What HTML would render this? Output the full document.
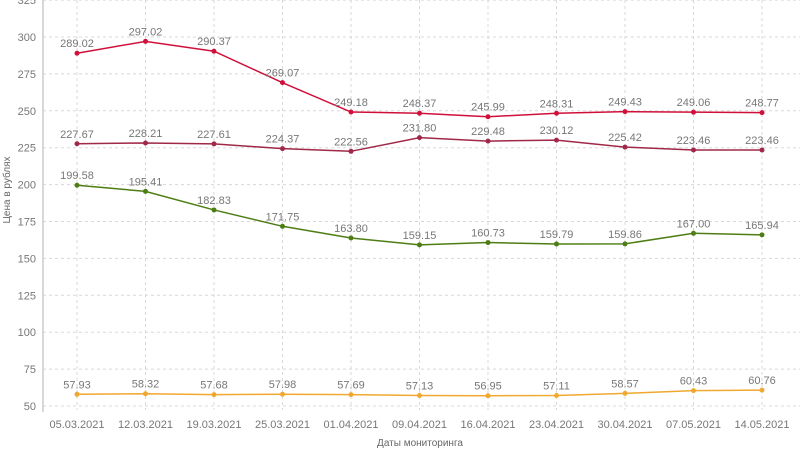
<!DOCTYPE html>
<html><head><meta charset="utf-8"><style>
html,body{margin:0;padding:0;background:#fff}
svg{display:block;font-family:"Liberation Sans",sans-serif}
</style></head><body>
<svg id="c" width="800" height="450" xmlns="http://www.w3.org/2000/svg"></svg>
<script>
const s=document.getElementById('c');
const X=i=>77+i*68.5, Y=v=>406-(v-50)*1.476;
let h='';
for(let v=50;v<=325;v+=25){const y=Y(v);
 h+=`<line x1="43" x2="800" y1="${y}" y2="${y}" stroke="#d8d8d8" stroke-dasharray="3,3"/>`;
 h+=`<text x="36" y="${y+4}" text-anchor="end" font-size="11" fill="#777">${v}</text>`;}
const d=['05.03.2021','12.03.2021','19.03.2021','25.03.2021','01.04.2021','09.04.2021','16.04.2021','23.04.2021','30.04.2021','07.05.2021','14.05.2021'];
d.forEach((t,i)=>{const x=X(i);
 h+=`<line x1="${x}" x2="${x}" y1="0" y2="410" stroke="#d8d8d8" stroke-dasharray="3,3"/>`;
 h+=`<text x="${x}" y="428" text-anchor="middle" font-size="11" fill="#777">${t}</text>`;});
h+=`<line x1="43" x2="43" y1="0" y2="412" stroke="#ccc" stroke-width="1.5"/>`;
const S=[
['#d0103a',[289.02,297.02,290.37,269.07,249.18,248.37,245.99,248.31,249.43,249.06,248.77]],
['#a02848',[227.67,228.21,227.61,224.37,222.56,231.80,229.48,230.12,225.42,223.46,223.46]],
['#4e7d14',[199.58,195.41,182.83,171.75,163.80,159.15,160.73,159.79,159.86,167.00,165.94]],
['#f0a830',[57.93,58.32,57.68,57.98,57.69,57.13,56.95,57.11,58.57,60.43,60.76]]];
S.forEach(([c,v])=>{
 h+=`<polyline fill="none" stroke="${c}" stroke-width="1.5" points="${v.map((a,i)=>X(i)+','+Y(a)).join(' ')}"/>`;
 v.forEach((a,i)=>{h+=`<circle cx="${X(i)}" cy="${Y(a)}" r="2.5" fill="${c}"/>`;
  h+=`<text x="${X(i)}" y="${Y(a)-6}" text-anchor="middle" font-size="11" fill="#777">${a.toFixed(2)}</text>`;});});
h+=`<text x="420" y="446" text-anchor="middle" font-size="10" fill="#666">Даты мониторинга</text>`;
h+=`<text transform="translate(10,190) rotate(-90)" text-anchor="middle" font-size="10" fill="#666">Цена в рублях</text>`;
s.innerHTML=h;
</script>
</body></html>
